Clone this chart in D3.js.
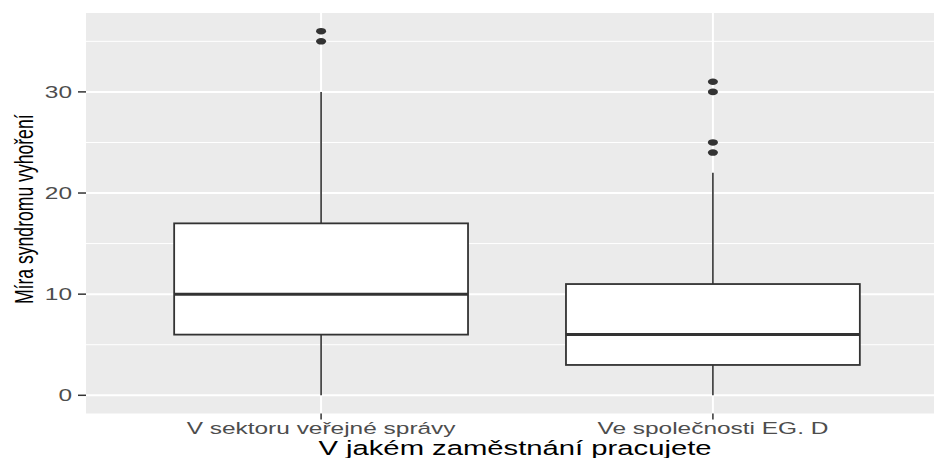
<!DOCTYPE html>
<html>
<head>
<meta charset="utf-8">
<script src="https://cdn.jsdelivr.net/npm/d3@7"></script>
<style>
  html, body { margin: 0; padding: 0; background: #ffffff; }
  svg { display: block; font-family: "Liberation Sans", Arial, sans-serif; }
</style>
</head>
<body>
<svg id="chart" width="934" height="458"></svg>
<script>
// ---- data ----
const categories = ["V sektoru veřejné správy", "Ve společnosti EG. D"];
const whiskerLow  = [0, 0];
const q1          = [6, 3];
const medians     = [10, 6];
const q3          = [17, 11];
const whiskerHigh = [30, 22];
const outliers    = [[35, 36], [24, 25, 30, 31]];
const yMajorTicks = [0, 10, 20, 30];
const yMinorTicks = [5, 15, 25, 35];
const xTitle = "V jakém zaměstnání pracujete";
const yTitle = "Míra syndromu vyhoření";

// ---- layout ----
const W = 934, H = 458;
const panel = { left: 86, right: 948, top: 13, bottom: 413.5 };
const SX = 1.5; // horizontal stretch of the reference's text

const svg = d3.select("#chart");

const x = d3.scalePoint()
  .domain(categories)
  .range([panel.left, panel.right])
  .padding(0.6);
const step = x.step();
const boxW = step * 0.75;

const y = d3.scaleLinear()
  .domain([-1.8, 37.8])
  .range([panel.bottom, panel.top]);

// panel background
svg.append("rect")
  .attr("x", panel.left).attr("y", panel.top)
  .attr("width", panel.right - panel.left)
  .attr("height", panel.bottom - panel.top)
  .attr("fill", "#EBEBEB");

// minor gridlines
svg.append("g").selectAll("line").data(yMinorTicks).join("line")
  .attr("x1", panel.left).attr("x2", panel.right)
  .attr("y1", d => y(d)).attr("y2", d => y(d))
  .attr("stroke", "#ffffff").attr("stroke-width", 1);

// major gridlines
svg.append("g").selectAll("line").data(yMajorTicks).join("line")
  .attr("x1", panel.left).attr("x2", panel.right)
  .attr("y1", d => y(d)).attr("y2", d => y(d))
  .attr("stroke", "#ffffff").attr("stroke-width", 2);
svg.append("g").selectAll("line").data(categories).join("line")
  .attr("x1", d => x(d)).attr("x2", d => x(d))
  .attr("y1", panel.top).attr("y2", panel.bottom)
  .attr("stroke", "#ffffff").attr("stroke-width", 2);

// boxplots
const groups = categories.map((c, i) => ({
  c, lo: whiskerLow[i], q1: q1[i], med: medians[i], q3: q3[i], hi: whiskerHigh[i], out: outliers[i]
}));
const g = svg.append("g").selectAll("g").data(groups).join("g");
const stroke = "#333333";
// whiskers
g.append("line")
  .attr("x1", d => x(d.c)).attr("x2", d => x(d.c))
  .attr("y1", d => y(d.q3)).attr("y2", d => y(d.hi))
  .attr("stroke", stroke).attr("stroke-width", 1.6);
g.append("line")
  .attr("x1", d => x(d.c)).attr("x2", d => x(d.c))
  .attr("y1", d => y(d.q1)).attr("y2", d => y(d.lo))
  .attr("stroke", stroke).attr("stroke-width", 1.6);
// box
g.append("rect")
  .attr("x", d => x(d.c) - boxW / 2)
  .attr("width", boxW)
  .attr("y", d => y(d.q3))
  .attr("height", d => y(d.q1) - y(d.q3))
  .attr("fill", "#ffffff").attr("stroke", stroke).attr("stroke-width", 1.8);
// median
g.append("line")
  .attr("x1", d => x(d.c) - boxW / 2).attr("x2", d => x(d.c) + boxW / 2)
  .attr("y1", d => y(d.med)).attr("y2", d => y(d.med))
  .attr("stroke", stroke).attr("stroke-width", 3);
// outliers
g.selectAll("ellipse").data(d => d.out.map(v => ({ c: d.c, v }))).join("ellipse")
  .attr("cx", d => x(d.c)).attr("cy", d => y(d.v))
  .attr("rx", 5).attr("ry", 3.3)
  .attr("fill", stroke);

// y axis ticks + labels
const yAxis = svg.append("g");
yAxis.selectAll("line").data(yMajorTicks).join("line")
  .attr("x1", panel.left - 8).attr("x2", panel.left)
  .attr("y1", d => y(d)).attr("y2", d => y(d))
  .attr("stroke", stroke).attr("stroke-width", 1.5);
yAxis.selectAll("text").data(yMajorTicks).join("text")
  .attr("transform", d => `translate(${panel.left - 14},${y(d) + 5.8}) scale(${SX},1)`)
  .attr("text-anchor", "end")
  .attr("font-size", 16.3)
  .attr("fill", "#4D4D4D")
  .text(d => d);

// x axis ticks + labels
const xAxis = svg.append("g");
xAxis.selectAll("line").data(categories).join("line")
  .attr("x1", d => x(d)).attr("x2", d => x(d))
  .attr("y1", panel.bottom).attr("y2", panel.bottom + 6)
  .attr("stroke", stroke).attr("stroke-width", 1.5);
xAxis.selectAll("text").data(categories).join("text")
  .attr("transform", d => `translate(${x(d)},433.5) scale(${SX},1)`)
  .attr("text-anchor", "middle")
  .attr("font-size", 16.3)
  .attr("fill", "#4D4D4D")
  .text(d => d);

// axis titles
svg.append("text")
  .attr("transform", `translate(${(panel.left + panel.right) / 2 - 2},455) scale(${SX},1)`)
  .attr("text-anchor", "middle")
  .attr("font-size", 19.5)
  .attr("fill", "#000000")
  .text(xTitle);

svg.append("text")
  .attr("transform", `translate(33,${(panel.top + panel.bottom) / 2 - 4}) scale(${SX},1) rotate(-90)`)
  .attr("text-anchor", "middle")
  .attr("font-size", 17.6)
  .attr("fill", "#000000")
  .text(yTitle);
</script>
</body>
</html>
